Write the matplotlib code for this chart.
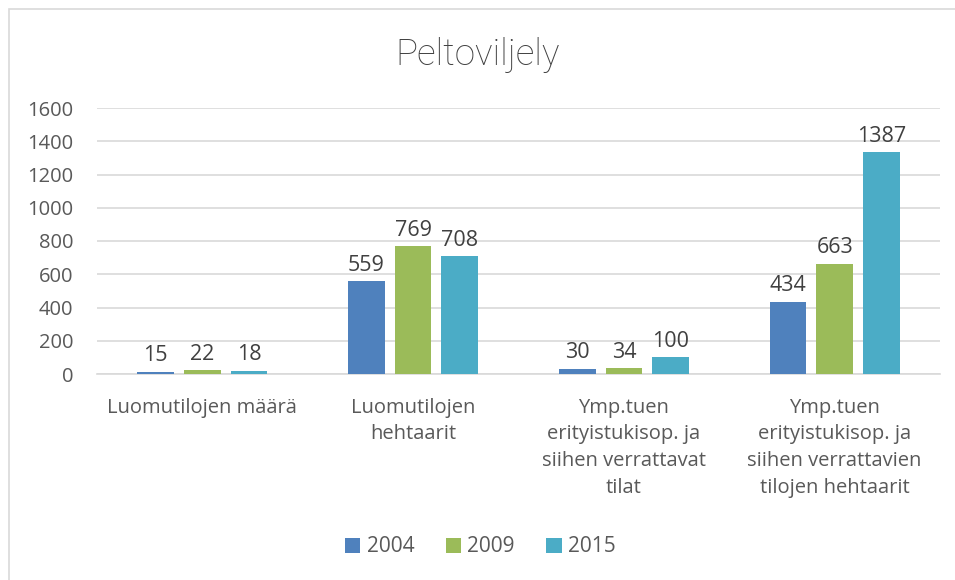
import numpy as np
import matplotlib.pyplot as plt
from matplotlib.patches import Rectangle

# Kategoriat ja sarjat
categories = ['Luomutilojen määrä', 'Luomutilojen\nhehtaarit',
              'Ymp.tuen\nerityistukisop. ja\nsiihen verrattavat\ntilat',
              'Ymp.tuen\nerityistukisop. ja\nsiihen verrattavien\ntilojen hehtaarit']
years = ['2004', '2009', '2015']
values_2004 = [15, 559, 30, 434]
values_2009 = [22, 769, 34, 663]
values_2015 = [18, 708, 100, 1335]
labels_2004 = ['15', '559', '30', '434']
labels_2009 = ['22', '769', '34', '663']
labels_2015 = ['18', '708', '100', '1387']

colors = ['#4F81BD', '#9BBB59', '#4BACC6']
font = 'Open Sans'
txt = '#595959'

plt.rcParams['font.family'] = [font, 'DejaVu Sans']

fig = plt.figure(figsize=(9.55, 5.8), dpi=100)
ax = fig.add_axes([97 / 955, 1 - 374 / 580, 843 / 955, 266 / 580])

x = np.arange(len(categories))
step = 0.2215
width = 0.174
series = [(values_2004, labels_2004), (values_2009, labels_2009), (values_2015, labels_2015)]
for i, (vals, labs) in enumerate(series):
    bars = ax.bar(x + (i - 1) * step, vals, width, color=colors[i], label=years[i], zorder=3)
    for b, lab in zip(bars, labs):
        ax.annotate(lab, (b.get_x() + b.get_width() / 2, b.get_height()),
                    xytext=(0, 4), textcoords='offset points', ha='center', va='bottom',
                    fontsize=15.5, color='#404040')

ax.set_xlim(-0.5, len(categories) - 0.5)
ax.set_ylim(0, 1600)
ax.set_yticks(range(0, 1601, 200))
ax.grid(axis='y', color='#D9D9D9', linewidth=1.2, zorder=0)
for s in ['top', 'right', 'left']:
    ax.spines[s].set_visible(False)
ax.spines['bottom'].set_color('#D9D9D9')
ax.spines['bottom'].set_linewidth(1.2)
ax.tick_params(axis='both', length=0, colors=txt)
ax.tick_params(axis='y', labelsize=14.5, pad=17)
ax.set_xticks(x)
ax.set_xticklabels(categories, linespacing=1.45)
ax.tick_params(axis='x', labelsize=14.5, pad=17)

fig.text(0.5, 1 - 55 / 580, 'Peltoviljely', ha='center', va='center', fontsize=26.5,
         color='#404040', family=['Roboto', 'DejaVu Sans'], fontweight='light')

leg = fig.legend(loc='center', bbox_to_anchor=(0.503, 1 - 547 / 580), ncol=3, frameon=False,
                 fontsize=15, handlelength=0.75, handleheight=0.75, handletextpad=0.3,
                 columnspacing=1.5, labelcolor=txt)

fig.patches.append(Rectangle((9 / 955, -0.1), 1.2, 1 - 9 / 580 + 0.1, transform=fig.transFigure,
                             fill=False, edgecolor='#D9D9D9', linewidth=1.2))

fig.savefig('out.png', dpi=100)
